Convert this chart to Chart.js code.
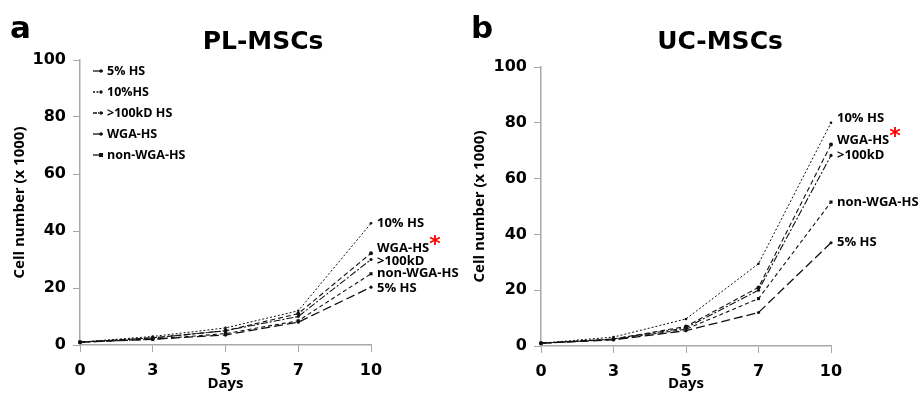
<!DOCTYPE html>
<html>
<head>
<meta charset="utf-8">
<script src="https://cdn.jsdelivr.net/npm/chart.js@4/dist/chart.umd.min.js"></script>
<style>
  html, body { margin: 0; padding: 0; background: #fff; }
  #wrap { position: relative; width: 920px; height: 393px; }
  canvas { position: absolute; top: 0; }
</style>
</head>
<body>
<div id="wrap">
  <canvas id="c1" width="460" height="393" style="left:0"></canvas>
  <canvas id="c2" width="460" height="393" style="left:460px"></canvas>
</div>
<script>
// ---- data ----
const days = ['0', '3', '5', '7', '10'];
const seriesNames = ['5% HS', '10%HS', '>100kD HS', 'WGA-HS', 'non-WGA-HS'];
const endLabels = ['5% HS', '10% HS', '>100kD', 'WGA-HS', 'non-WGA-HS'];
const yTicks = [0, 20, 40, 60, 80, 100];

// PL-MSCs (cell number x 1000)
const pl5HS      = [1, 2.0, 3.5, 8.0, 20.3];
const pl10HS     = [1, 3.0, 6.0, 12.0, 42.7];
const pl100kD    = [1, 2.5, 5.0, 10.0, 30.0];
const plWGA      = [1, 2.5, 5.0, 11.0, 32.2];
const plNonWGA   = [1, 2.0, 4.0, 8.5, 25.0];

// UC-MSCs (cell number x 1000)
const uc5HS      = [1, 2.2, 5.5, 12.0, 37.0];
const uc10HS     = [1, 3.2, 9.7, 29.5, 80.0];
const uc100kD    = [1, 2.5, 6.5, 20.0, 68.3];
const ucWGA      = [1, 2.5, 7.0, 21.0, 72.2];
const ucNonWGA   = [1, 2.3, 6.0, 17.0, 51.6];

// ---- styles ----
const styles = [
  { dash: [9, 4], width: 1.3, pt: 'circle', r: 1.6 },
  { dash: [2, 2], width: 1.0, pt: 'circle', r: 1.3 },
  { dash: [7, 2, 2, 2], width: 1.1, pt: 'circle', r: 1.6 },
  { dash: [5, 3], width: 1.1, pt: 'circle', r: 2.0 },
  { dash: [4, 3], width: 1.1, pt: 'rect', r: 2.2 }
];

function makeDatasets(arrs) {
  return arrs.map((d, i) => ({
    label: seriesNames[i],
    data: d,
    borderColor: '#111',
    backgroundColor: '#111',
    borderWidth: styles[i].width,
    borderDash: styles[i].dash,
    pointStyle: styles[i].pt,
    pointRadius: styles[i].r,
    pointBorderWidth: 0,
    tension: 0,
    fill: false
  }));
}

const annotPlugin = {
  id: 'annot',
  afterDraw(chart, args, opts) {
    const ctx = chart.ctx;
    ctx.save();
    // panel letter
    ctx.fillStyle = '#000';
    ctx.textBaseline = 'alphabetic';
    ctx.textAlign = 'left';
    ctx.font = 'bold 31px "DejaVu Sans"';
    ctx.fillText(opts.letter, opts.letterX, 38);
    // title
    ctx.textAlign = 'center';
    ctx.font = 'bold 25px "DejaVu Sans"';
    ctx.fillText(opts.title, opts.titleX, 49);
    // legend
    ctx.textAlign = 'left';
    ctx.textBaseline = 'middle';
    ctx.font = 'bold 12.5px "Open Sans"';
    chart.data.datasets.forEach((ds, i) => {
      const y = opts.legendY + i * opts.legendStep;
      const x0 = opts.legendX;
      ctx.strokeStyle = '#111';
      ctx.lineWidth = 1.3;
      ctx.setLineDash(i === 1 ? [2, 1.5] : (i === 2 ? [4, 1, 1, 1] : []));
      ctx.beginPath();
      ctx.moveTo(x0, y);
      ctx.lineTo(x0 + 10, y);
      ctx.stroke();
      ctx.setLineDash([]);
      ctx.fillStyle = '#111';
      if (ds.pointStyle === 'rect') {
        ctx.fillRect(x0 + 6, y - 2, 4, 4);
      } else {
        ctx.beginPath();
        ctx.arc(x0 + 8, y, 1.7, 0, Math.PI * 2);
        ctx.fill();
      }
      ctx.fillStyle = '#000';
      ctx.fillText(ds.label, x0 + 14, y);
    });
    // end labels
    const lf = 'bold 13px "Open Sans"';
    ctx.font = lf;
    chart.data.datasets.forEach((ds, i) => {
      const meta = chart.getDatasetMeta(i);
      const p = meta.data[meta.data.length - 1];
      const y = p.y + opts.labelOffsets[i];
      const x = p.x + 6;
      ctx.fillStyle = '#000';
      ctx.fillText(endLabels[i], x, y);
      if (i === 3) {
        const w = ctx.measureText(endLabels[i]).width;
        ctx.save();
        ctx.fillStyle = '#ff0000';
        ctx.font = 'bold 22px "DejaVu Sans"';
        ctx.fillText('*', x + w, y - 3);
        ctx.restore();
        ctx.font = lf;
      }
    });
    ctx.restore();
  }
};

function makeChart(id, arrs, o) {
  return new Chart(document.getElementById(id), {
    type: 'line',
    data: { labels: days, datasets: makeDatasets(arrs) },
    plugins: [annotPlugin],
    options: {
      responsive: false,
      animation: false,
      layout: { padding: { top: o.top, right: 89, left: 0, bottom: 0 } },
      plugins: {
        legend: { display: false },
        tooltip: { enabled: false },
        annot: o.annot
      },
      scales: {
        x: {
          type: 'category',
          offset: false,
          afterFit: s => { s.height = o.xH; },
          grid: { display: true, drawOnChartArea: false, offset: false, tickLength: 7, color: '#a8a8a8' },
          border: { color: '#a8a8a8', width: 1.5 },
          ticks: { color: '#000', font: { family: '"DejaVu Sans"', weight: 'bold', size: 16 }, padding: 9, maxRotation: 0 },
          title: { display: true, text: 'Days', color: '#000', font: { family: '"Open Sans"', weight: 'bold', size: 15 }, padding: { top: 0, bottom: 0 } }
        },
        y: {
          min: 0, max: 100,
          afterFit: s => { s.width = o.yW; },
          afterBuildTicks: s => { s.ticks = yTicks.map(v => ({ value: v })); },
          grid: { display: true, drawOnChartArea: false, tickLength: 7, color: '#a8a8a8' },
          border: { color: '#a8a8a8', width: 1.5 },
          ticks: { color: '#000', font: { family: '"DejaVu Sans"', weight: 'bold', size: 16 }, padding: 7 },
          title: { display: true, text: 'Cell number (x 1000)', color: '#000', font: { family: '"Open Sans"', weight: 'bold', size: 15 }, padding: { top: 11, bottom: 0 } }
        }
      }
    }
  });
}

makeChart('c1', [pl5HS, pl10HS, pl100kD, plWGA, plNonWGA], {
  top: 60, xH: 48, yW: 80,
  annot: { letter: 'a', letterX: 10, title: 'PL-MSCs', titleX: 263, legendX: 93, legendY: 71, legendStep: 21, labelOffsets: [1, 0, 2, -5, 0] }
});
makeChart('c2', [uc5HS, uc10HS, uc100kD, ucWGA, ucNonWGA], {
  top: 67, xH: 47, yW: 81,
  annot: { letter: 'b', letterX: 11, title: 'UC-MSCs', titleX: 260, legendX: 553, legendY: 77, legendStep: 20.5, labelOffsets: [0, -5, 0, -4, 0] }
});
</script>
</body>
</html>
